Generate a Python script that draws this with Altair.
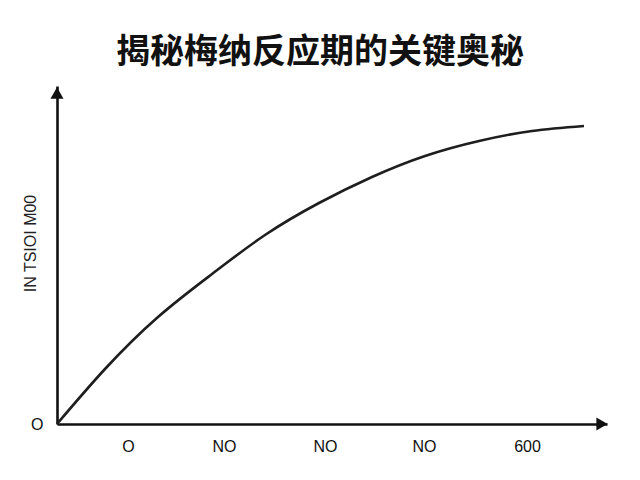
import altair as alt
import pandas as pd

# Curve (x: 0..550, y: 0..338 on arbitrary units)
curve_x = [0, 48, 101, 155, 208, 262, 315, 368, 422, 475, 527]
curve_y = [0, 55, 107, 150, 189, 221, 247, 268, 283, 293, 298]

x_tick_values = [71, 167, 268, 367, 470]
x_tick_labels = ["O", "NO", "NO", "NO", "600"]
y_tick_values = [0]
y_tick_labels = ["O"]

title_text = "揭秘梅纳反应期的关键奥秘"
y_title = "IN TSIOI M00"

X_MAX = 550
Y_MAX = 338

curve = pd.DataFrame({"x": curve_x, "y": curve_y})

def label_expr(values, labels):
    parts = " : ".join(
        f"datum.value == {v} ? '{l}'" for v, l in zip(values, labels)
    )
    return parts + " : ''"

xscale = alt.Scale(domain=[0, X_MAX], nice=False, zero=True)
yscale = alt.Scale(domain=[0, Y_MAX], nice=False, zero=True)

line = alt.Chart(curve).mark_line(
    color="#1e1e1e", strokeWidth=2.6, interpolate="natural"
).encode(
    x=alt.X(
        "x:Q",
        scale=xscale,
        axis=alt.Axis(
            values=x_tick_values,
            labelExpr=label_expr(x_tick_values, x_tick_labels),
            title=None,
            grid=False,
            ticks=False,
            domainColor="#111111",
            domainWidth=2.6,
            labelFont="Liberation Sans",
            labelFontSize=16,
            labelColor="#111111",
            labelPadding=14,
        ),
    ),
    y=alt.Y(
        "y:Q",
        scale=yscale,
        axis=alt.Axis(
            values=y_tick_values,
            labelExpr=label_expr(y_tick_values, y_tick_labels),
            title=y_title,
            titleFont="Liberation Sans",
            titleFontSize=16,
            titleFontWeight="normal",
            titleColor="#222222",
            titleX=-27,
            titleY=157,
            titleAngle=270,
            titleAlign="center",
            titleBaseline="middle",
            grid=False,
            ticks=False,
            domainColor="#111111",
            domainWidth=2.6,
            labelFont="Liberation Sans",
            labelFontSize=16,
            labelColor="#111111",
            labelPadding=14,
        ),
    ),
)

arrows = pd.DataFrame({
    "x": [X_MAX, 0],
    "y": [0, Y_MAX],
})

arrow_x = alt.Chart(arrows.iloc[[0]]).mark_point(
    shape="triangle-right", filled=True, size=170, color="#111111",
    opacity=1, xOffset=-5,
).encode(x=alt.X("x:Q", scale=xscale), y=alt.Y("y:Q", scale=yscale))

arrow_y = alt.Chart(arrows.iloc[[1]]).mark_point(
    shape="triangle-up", filled=True, size=170, color="#111111",
    opacity=1, yOffset=7,
).encode(x=alt.X("x:Q", scale=xscale), y=alt.Y("y:Q", scale=yscale))

chart = alt.layer(line, arrow_x, arrow_y).properties(
    width=X_MAX,
    height=Y_MAX,
    view=alt.ViewBackground(stroke="transparent", strokeWidth=0, fill="white"),
    title=alt.TitleParams(
        text=title_text,
        font="Noto Sans CJK SC",
        fontSize=34,
        fontWeight="bold",
        color="#111111",
        anchor="middle",
        dx=-12,
        offset=16,
    ),
    autosize=alt.AutoSizeParams(type="none"),
    padding={"left": 49, "top": 78, "right": 10, "bottom": 50},
).configure_view(strokeWidth=0, stroke="transparent").configure(background="white")

chart.save("out.html", embed_options={"renderer": "svg", "actions": False})
